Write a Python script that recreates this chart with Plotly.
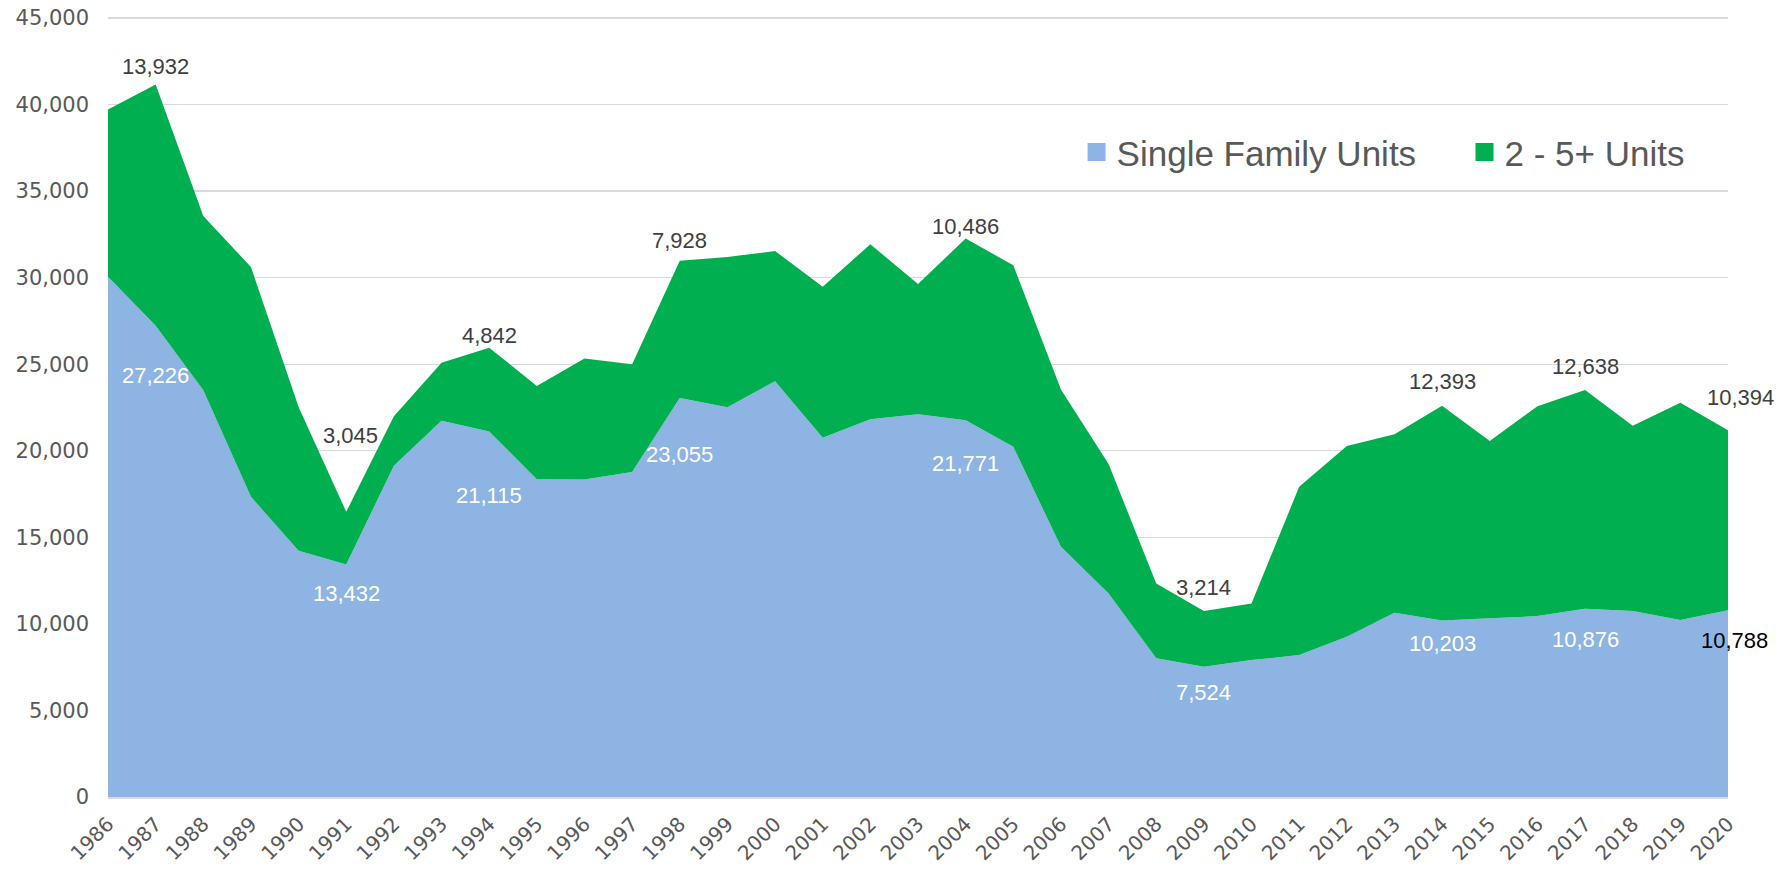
import plotly.graph_objects as go

years = list(range(1986, 2021))
single_family = [30050, 27226, 23500, 17340, 14220, 13432, 19130, 21730, 21115, 18360,
                 18340, 18780, 23055, 22520, 24020, 20750, 21820, 22110, 21771, 20230,
                 14450, 11760, 8010, 7524, 7910, 8200, 9260, 10640, 10203, 10320,
                 10450, 10876, 10740, 10220, 10788]
multi_family = [9670, 13932, 10060, 13280, 8310, 3045, 2870, 3350, 4842, 5390,
                6990, 6220, 7928, 8680, 7520, 8730, 10110, 7530, 10486, 10490,
                9090, 7470, 4330, 3214, 3270, 9720, 11010, 10320, 12393, 10250,
                12130, 12638, 10700, 12550, 10394]
label_years = [1987, 1991, 1994, 1998, 2004, 2009, 2014, 2017, 2020]
series_names = ["Single Family Units", "2 - 5+ Units"]

BLUE = "#8EB4E3"
GREEN = "#00B050"
GRID = "#D9D9D9"
TICK = "#595959"

# label offsets (px) – styling only
mf_shift = {1987: 18, 1991: 76, 1994: 12, 1998: 20, 2004: 12, 2009: 24, 2014: 24, 2017: 23, 2020: 33}
sf_shift = {1987: -50, 1991: -29, 1994: -64, 1998: -57, 2004: -43, 2009: -26, 2014: -23, 2017: -31, 2020: -30}
x_shift = {1991: 4, 2020: 12}
sf_x_shift = {2020: 6}

fig = go.Figure()
fig.add_trace(go.Scatter(x=years, y=single_family, stackgroup="one", mode="none",
                         fillcolor=BLUE, name=series_names[0], showlegend=False))
fig.add_trace(go.Scatter(x=years, y=multi_family, stackgroup="one", mode="none",
                         fillcolor=GREEN, name=series_names[1], showlegend=False))

# legend entries
fig.add_trace(go.Scatter(x=[None], y=[None], mode="markers", name=series_names[0],
                         marker=dict(symbol="square", size=16, color=BLUE,
                                     line=dict(width=2, color=BLUE)),
                         legend="legend"))
fig.add_trace(go.Scatter(x=[None], y=[None], mode="markers", name=series_names[1],
                         marker=dict(symbol="square", size=16, color=GREEN,
                                     line=dict(width=2, color=GREEN)),
                         legend="legend2"))

label_font = dict(family="Liberation Sans", size=22)
annotations = []
for yr in label_years:
    i = years.index(yr)
    sf = single_family[i]
    mf = multi_family[i]
    annotations.append(dict(x=yr, y=sf + mf, xref="x", yref="y", text=f"{mf:,}",
                            showarrow=False, yanchor="middle", xanchor="center",
                            yshift=mf_shift[yr], xshift=x_shift.get(yr, 0),
                            font=dict(color="#404040", **label_font)))
    annotations.append(dict(x=yr, y=sf, xref="x", yref="y", text=f"{sf:,}",
                            showarrow=False, yanchor="middle", xanchor="center",
                            yshift=sf_shift[yr], xshift=sf_x_shift.get(yr, 0),
                            font=dict(color="#000000" if yr == 2020 else "#FFFFFF",
                                      **label_font)))

# the page body margin is removed in post_script, so figure coords = screen coords
W, H = 1779, 869
Y_MAX = 45000
Y_TOP = 45060  # a little headroom so the 45,000 gridline is drawn
y0_px, y45_px = 797.0, 17.7
px_per_unit = (y0_px - y45_px) / Y_MAX
left, right = 108.3, 1728.5
top, bottom = y0_px - Y_TOP * px_per_unit, y0_px
ml, mr, mt, mb = left, W - right, top, H - bottom
pw = right - left
ph = bottom - top

def px_x(px):
    return (px - left) / pw

def px_y(py):
    return 1 - (py - top) / ph

legend_font = dict(family="Liberation Sans", size=35, color=TICK)

fig.update_layout(
    width=W, height=H,
    margin=dict(l=ml, r=mr, t=mt, b=mb, autoexpand=False),
    paper_bgcolor="white", plot_bgcolor="white",
    annotations=annotations,
    legend=dict(x=px_x(1077), y=px_y(152), xanchor="left", yanchor="middle",
                orientation="h", font=legend_font, bgcolor="rgba(0,0,0,0)"),
    legend2=dict(x=px_x(1465), y=px_y(152), xanchor="left", yanchor="middle",
                 orientation="h", font=legend_font, bgcolor="rgba(0,0,0,0)"),
    xaxis=dict(range=[1986, 2020], tickmode="array", tickvals=years,
               ticktext=[str(y) for y in years], tickangle=-45, automargin=False,
               showgrid=False, zeroline=False, showline=True, linecolor=GRID,
               linewidth=1.5, ticks="", ticklabelstandoff=6,
               tickfont=dict(family="DejaVu Sans", size=20, color=TICK)),
    yaxis=dict(range=[0, Y_TOP], tick0=0, dtick=5000, tickformat=",", showgrid=True,
               automargin=False, ticklabeloverflow="allow",
               gridcolor=GRID, gridwidth=1.3, zeroline=False, showline=False,
               ticks="", ticklabelstandoff=18,
               tickfont=dict(family="DejaVu Sans", size=21, color=TICK)),
    hovermode=False,
)

fig.write_html("out.html",
               config={"displayModeBar": False, "staticPlot": True},
               post_script="document.body.style.margin='0';document.body.style.overflow='hidden';")
